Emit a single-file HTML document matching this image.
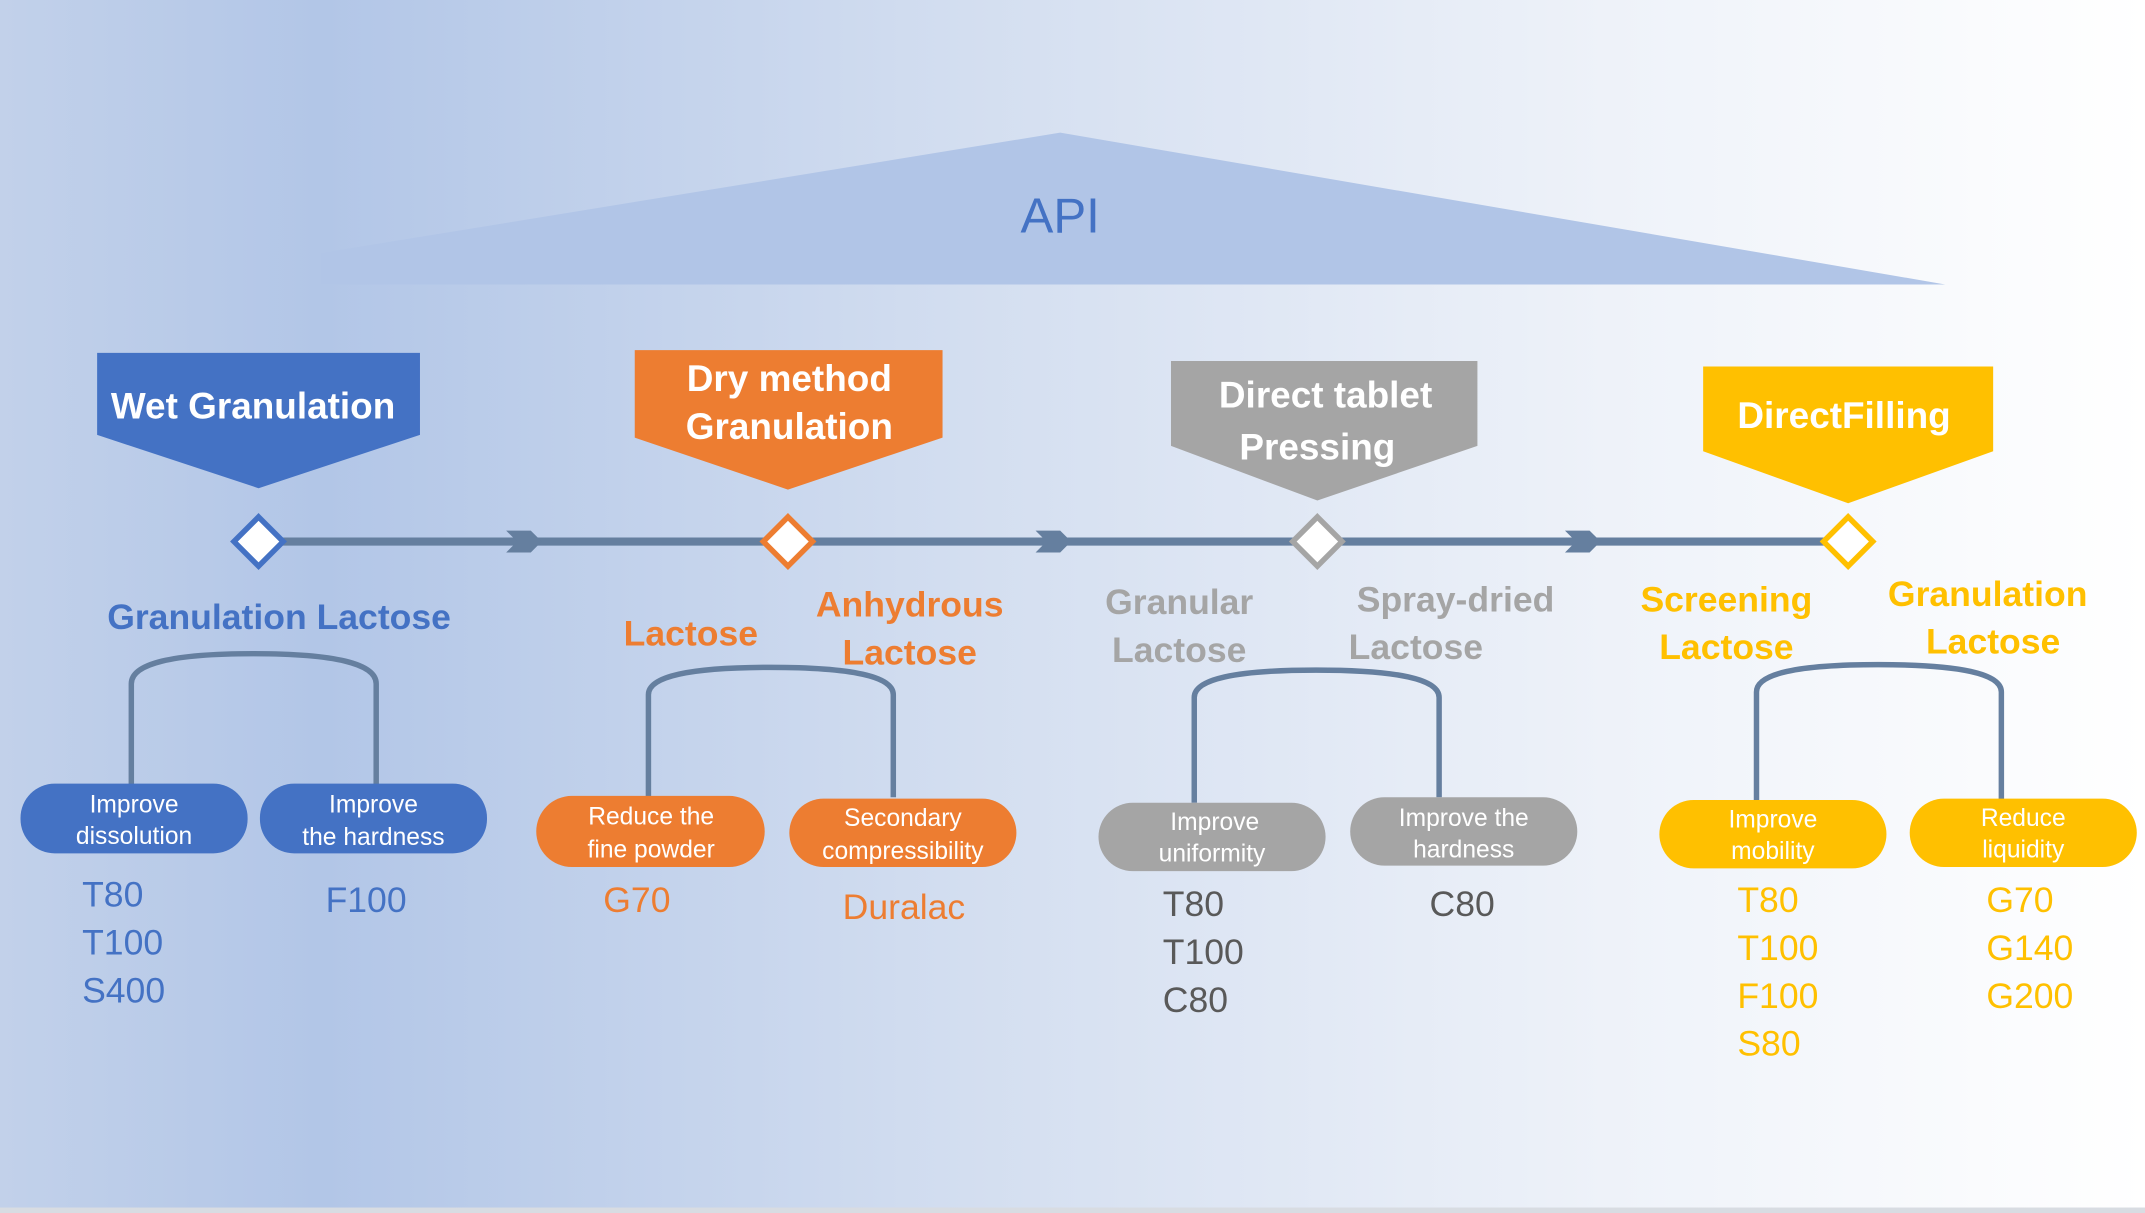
<!DOCTYPE html>
<html><head><meta charset="utf-8"><style>html,body{margin:0;padding:0;overflow:hidden}svg{display:block}text{font-family:"Liberation Sans","DejaVu Sans",sans-serif}</style></head><body>
<svg width="2145" height="1213" viewBox="0 0 1568 887" preserveAspectRatio="none" xmlns="http://www.w3.org/2000/svg">
<defs>
<linearGradient id="bg" x1="0" y1="0" x2="1" y2="0">
<stop offset="0" stop-color="#c2d1ea"/>
<stop offset="0.15" stop-color="#b2c6e7"/>
<stop offset="0.45" stop-color="#d3def0"/>
<stop offset="0.75" stop-color="#eef2f9"/>
<stop offset="1" stop-color="#ffffff"/>
</linearGradient>
</defs>
<rect width="1568" height="887" fill="url(#bg)"/>
<rect x="0" y="883" width="1568" height="4" fill="#d8dce2"/>
<polygon points="235,185 775,97 1422,208 235,208" fill="#b1c5e7"/>
<text x="775" y="170" font-size="36" fill="#4472c4" text-anchor="middle">API</text>

<!-- timeline -->
<line x1="190" y1="396" x2="1352" y2="396" stroke="#657f9f" stroke-width="6"/>
<g fill="#657f9f">
<polygon points="370,388 388,388 396,396 388,404 370,404 378,396"/>
<polygon points="757,388 775,388 783,396 775,404 757,404 765,396"/>
<polygon points="1144,388 1162,388 1170,396 1162,404 1144,404 1152,396"/>
</g>
<polygon points="189,378 207,396 189,414 171,396" fill="#fff" stroke="#4472c4" stroke-width="4"/>
<polygon points="576,378 594,396 576,414 558,396" fill="#fff" stroke="#ed7d31" stroke-width="4"/>
<polygon points="963,378 981,396 963,414 945,396" fill="#fff" stroke="#a5a5a5" stroke-width="4"/>
<polygon points="1351,378 1369,396 1351,414 1333,396" fill="#fff" stroke="#ffc000" stroke-width="4"/>

<!-- headers -->
<polygon points="71,258 307,258 307,318 189,357 71,318" fill="#4472c4"/>
<text x="185" y="306" font-size="27" font-weight="bold" fill="#fff" text-anchor="middle">Wet Granulation</text>
<polygon points="464,256 689,256 689,320 576,358 464,320" fill="#ed7d31"/>
<text x="577" y="286" font-size="27" font-weight="bold" fill="#fff" text-anchor="middle">Dry method</text>
<text x="577" y="321" font-size="27" font-weight="bold" fill="#fff" text-anchor="middle">Granulation</text>
<polygon points="856,264 1080,264 1080,326 963,366 856,326" fill="#a5a5a5"/>
<text x="969" y="298" font-size="27" font-weight="bold" fill="#fff" text-anchor="middle">Direct tablet</text>
<text x="963" y="336" font-size="27" font-weight="bold" fill="#fff" text-anchor="middle">Pressing</text>
<polygon points="1245,268 1457,268 1457,330 1351,368 1245,330" fill="#ffc000"/>
<text x="1348" y="313" font-size="27" font-weight="bold" fill="#fff" text-anchor="middle">DirectFilling</text>

<!-- category labels -->
<g font-size="26" font-weight="bold" text-anchor="middle">
<text x="204" y="460" fill="#4472c4">Granulation Lactose</text>
<text x="505" y="472" fill="#ed7d31">Lactose</text>
<text x="665" y="451" fill="#ed7d31">Anhydrous</text>
<text x="665" y="486" fill="#ed7d31">Lactose</text>
<text x="862" y="449" fill="#a5a5a5">Granular</text>
<text x="862" y="484" fill="#a5a5a5">Lactose</text>
<text x="1064" y="447" fill="#a5a5a5">Spray-dried</text>
<text x="1035" y="482" fill="#a5a5a5">Lactose</text>
<text x="1262" y="447" fill="#ffc000">Screening</text>
<text x="1262" y="482" fill="#ffc000">Lactose</text>
<text x="1453" y="443" fill="#ffc000">Granulation</text>
<text x="1457" y="478" fill="#ffc000">Lactose</text>
</g>

<!-- brackets -->
<g fill="none" stroke="#657f9f" stroke-width="4">
<path d="M96,574 V500 Q96,478 185,478 Q275,478 275,500 V574"/>
<path d="M474,583 V508 Q474,488 563,488 Q653,488 653,508 V583"/>
<path d="M873,587 V510 Q873,490 962,490 Q1052,490 1052,510 V583"/>
<path d="M1284,585 V506 Q1284,486 1373,486 Q1463,486 1463,506 V585"/>
</g>

<!-- pills -->
<g font-size="18" fill="#fff" text-anchor="middle">
<rect x="15" y="573" width="166" height="51" rx="25" fill="#4472c4"/>
<text x="98" y="594">Improve</text><text x="98" y="617">dissolution</text>
<rect x="190" y="573" width="166" height="51" rx="25" fill="#4472c4"/>
<text x="273" y="594">Improve</text><text x="273" y="618">the hardness</text>
<rect x="392" y="582" width="167" height="52" rx="26" fill="#ed7d31"/>
<text x="476" y="603">Reduce the</text><text x="476" y="627">fine powder</text>
<rect x="577" y="584" width="166" height="50" rx="25" fill="#ed7d31"/>
<text x="660" y="604">Secondary</text><text x="660" y="628">compressibility</text>
<rect x="803" y="587" width="166" height="50" rx="25" fill="#a5a5a5"/>
<text x="888" y="607">Improve</text><text x="886" y="630">uniformity</text>
<rect x="987" y="583" width="166" height="50" rx="25" fill="#a5a5a5"/>
<text x="1070" y="604">Improve the</text><text x="1070" y="627">hardness</text>
<rect x="1213" y="585" width="166" height="50" rx="25" fill="#ffc000"/>
<text x="1296" y="605">Improve</text><text x="1296" y="628">mobility</text>
<rect x="1396" y="584" width="166" height="50" rx="25" fill="#ffc000"/>
<text x="1479" y="604">Reduce</text><text x="1479" y="627">liquidity</text>
</g>

<!-- grades -->
<g font-size="26">
<g fill="#4472c4"><text x="60" y="663">T80</text><text x="60" y="698">T100</text><text x="60" y="733">S400</text><text x="238" y="667">F100</text></g>
<g fill="#ed7d31"><text x="441" y="667">G70</text><text x="616" y="672">Duralac</text></g>
<g fill="#595959"><text x="850" y="670">T80</text><text x="850" y="705">T100</text><text x="850" y="740">C80</text><text x="1045" y="670">C80</text></g>
<g fill="#ffc000"><text x="1270" y="667">T80</text><text x="1270" y="702">T100</text><text x="1270" y="737">F100</text><text x="1270" y="772">S80</text>
<text x="1452" y="667">G70</text><text x="1452" y="702">G140</text><text x="1452" y="737">G200</text></g>
</g>
</svg>
</body></html>
